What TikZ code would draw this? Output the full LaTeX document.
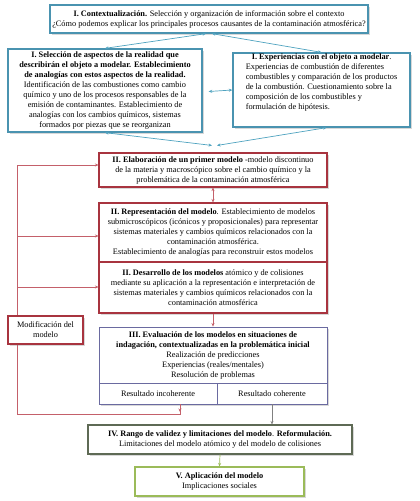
\documentclass[tikz,border=0pt]{standalone}
\usepackage{fontspec}
\setmainfont{Liberation Serif}
\usetikzlibrary{calc,shadows,arrows.meta}
\definecolor{blueb}{HTML}{4A93B0}
\definecolor{bluel}{HTML}{4FA3C0}
\definecolor{redb}{HTML}{A8343F}
\definecolor{redl}{HTML}{C4606A}
\definecolor{purb}{HTML}{6A6AA0}
\definecolor{greyb}{HTML}{5E6A55}
\definecolor{greyl}{HTML}{808080}
\definecolor{greenb}{HTML}{9BBB59}
\tikzset{
  box/.style={rectangle, fill=white, inner sep=1pt, align=center,
    font=\fontsize{8.3}{10}\selectfont,
    drop shadow={opacity=0.3, shadow xshift=1.5pt, shadow yshift=-1.5pt}},
  bluebox/.style={box, draw=blueb, line width=1.3pt},
  redbox/.style={box, draw=redb, line width=1.1pt},
  purbox/.style={box, draw=purb, line width=0.9pt},
  greybox/.style={box, draw=greyb, line width=1.1pt},
  greenbox/.style={box, draw=greenb, line width=1.1pt},
  tip/.style={-{Stealth[length=3.5pt,width=3pt]}},
  dtip/.style={{Stealth[length=3.5pt,width=3pt]}-{Stealth[length=3.5pt,width=3pt]}},
  bconn/.style={draw=bluel, line width=0.7pt},
  rconn/.style={draw=redl, line width=0.7pt},
  gconn/.style={draw=greyl, line width=0.7pt},
  grconn/.style={draw=greenb, line width=0.7pt},
}
\begin{document}
\begin{tikzpicture}[x=1pt,y=-1pt]
\useasboundingbox[fill=white] (0,0) rectangle (420,501);

\node[bluebox, minimum width=318pt, minimum height=28pt] (top) at (209,19)
 {\textbf{I. Contextualización.} Selección y organización de información sobre el contexto\\
 ¿Cómo podemos explicar los principales procesos causantes de la contaminación atmosférica?};

\node[bluebox, minimum width=194pt, minimum height=83pt] (left) at (105,90.5)
 {\textbf{I. Selección de aspectos de la realidad que}\\
 \textbf{describirán el objeto a modelar. Establecimiento}\\
 \textbf{de analogías con estos aspectos de la realidad.}\\
 Identificación de las combustiones como cambio\\
 químico y uno de los procesos responsables de la\\
 emisión de contaminantes. Establecimiento de\\
 analogías con los cambios químicos, sistemas\\
 formados por piezas que se reorganizan};

\node[bluebox, minimum width=177pt, minimum height=74pt, align=left] (right) at (321.5,90)
 {\hspace*{6pt}\textbf{I. Experiencias con el objeto a modelar}.\\
 Experiencias de combustión de diferentes\\
 combustibles y comparación de los productos\\
 de la combustión. Cuestionamiento sobre la\\
 composición de los combustibles y\\
 formulación de hipótesis.\\[6pt]};

\node[redbox, minimum width=228pt, minimum height=34pt] (e1) at (213,170)
 {\textbf{II. Elaboración de un primer modelo} -modelo discontinuo\\
 de la materia y macroscópico sobre el cambio químico y la\\
 problemática de la contaminación atmosférica};

\node[redbox, minimum width=228pt, minimum height=59pt] (e2) at (213,232.5)
 {\textbf{II. Representación del modelo}. Establecimiento de modelos\\
 submicroscópicos (icónicos y proposicionales) para representar\\
 sistemas materiales y cambios químicos relacionados con la\\
 contaminación atmosférica.\\
 Establecimiento de analogías para reconstruir estos modelos};

\node[redbox, minimum width=228pt, minimum height=51pt] (e3) at (213,287.5)
 {\textbf{II. Desarrollo de los modelos} atómico y de colisiones\\
 mediante su aplicación a la representación e interpretación de\\
 sistemas materiales y cambios químicos relacionados con la\\
 contaminación atmosférica};

\node[purbox, minimum width=228pt, minimum height=56pt] (ev) at (213,355)
 {\textbf{III. Evaluación de los modelos en situaciones de}\\
 \textbf{indagación, contextualizadas en la problemática inicial}\\
 Realización de predicciones\\
 Experiencias (reales/mentales)\\
 Resolución de problemas};

\node[purbox, minimum width=118pt, minimum height=21pt] (incoh) at (158,393.5) {Resultado incoherente};
\node[purbox, minimum width=110pt, minimum height=21pt] (coh) at (272,393.5) {Resultado coherente};

\node[greybox, minimum width=264pt, minimum height=29pt] (rango) at (220,439.5)
 {\textbf{IV. Rango de validez y limitaciones del modelo}. \textbf{Reformulación.}\\
 Limitaciones del modelo atómico y del modelo de colisiones};

\node[greenbox, minimum width=169pt, minimum height=29pt] (apl) at (219.5,481.5)
 {\textbf{V. Aplicación del modelo}\\ Implicaciones sociales};

% blue connectors
\draw[bconn, dtip] ($(top.south)+(-3,0)$) -- (left.north);
\draw[bconn, dtip] ($(top.south)+(3,0)$) -- (right.north);
\draw[bconn, dtip] ($(left.east)+(6,1)$) -- (right.west);
\draw[bconn, dtip] (left.south) -- ($(e1.north)+(-1,-7)$);
\draw[bconn, dtip] ($(right.south)+(5,0)$) -- ($(e1.north)+(4,-7)$);

% red connectors
\draw[rconn, dtip] (e1.south) -- (e2.north);
\draw[rconn, tip] (e3.south) -- (ev.north);
\coordinate (fa) at (180,414);
\coordinate (fb) at (17,414);
\coordinate (fc) at (17,165);
\coordinate (fd) at (17,236);
\coordinate (fe) at (17,287);
\draw[rconn, tip] ($(incoh.south)+(22,0)$) -- ($(fa)+(0,-2)$);
\draw[rconn] ($(incoh.south)+(22,0)$) -- (fa) -- (fb) -- (fc);
\draw[rconn, tip] (fc) -- (fc -| e1.west);
\draw[rconn, tip] (fd) -- (fd -| e2.west);
\draw[rconn, tip] (fe) -- (fe -| e3.west);

\node[redbox, minimum width=75pt, minimum height=28pt] (mod) at (45.5,330)
 {Modificación del\\ modelo};

% grey & green
\draw[gconn, tip] (coh.south) -- (coh.south |- rango.north);
\draw[grconn, tip] (rango.south) -- (apl.north);
\end{tikzpicture}
\end{document}
